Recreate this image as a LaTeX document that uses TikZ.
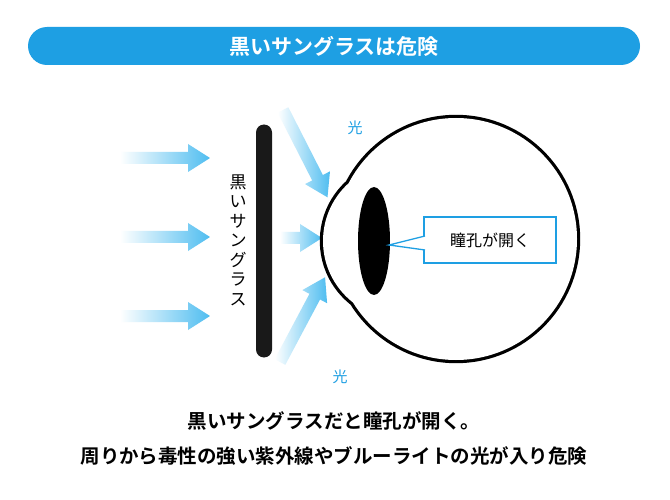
\documentclass[tikz,border=0pt]{standalone}
\usepackage{fontspec}
\setmainfont{Noto Sans CJK JP}
\newfontfamily\jpb{Noto Sans CJK JP Bold}
\usetikzlibrary{shapes.geometric}
\definecolor{sky}{HTML}{1E9FE3}
\definecolor{lite}{HTML}{4FBDF0}
\newcommand{\garrow}[3]{% start, angle, length
\begin{scope}[shift={#1},rotate=#2]
\shade[left color=white,right color=lite,draw=none]
 (0,-6)--(#3-22,-6)--(#3-22,-14)--(#3,0)--(#3-22,14)--(#3-22,6)--(0,6)--cycle;
\end{scope}}
\begin{document}
\begin{tikzpicture}[x=1pt,y=-1pt,
 lbl/.style={text=sky,font=\fontsize{15}{17}\selectfont}]
\useasboundingbox (0,0) rectangle (670,500);
\fill[white] (0,0) rectangle (670,500);
\node[fill=sky,rounded corners=19pt,minimum width=612pt,minimum height=38pt] (bar) at (334,46) {};
\node[text=white,font=\jpb\fontsize{21}{24}\selectfont] (title) at (334,46) {黒いサングラスは危険};
% arrows
\garrow{(120,158)}{0}{90}
\garrow{(120,237)}{0}{90}
\garrow{(120,316)}{0}{90}
\garrow{(280,238)}{0}{42}
\garrow{(283,110)}{-63}{98}
\garrow{(280,362)}{62}{96}
% sunglasses
\node[fill=black!90,rounded corners=8pt,minimum width=16pt,minimum height=233pt,inner sep=0] (sg) at (264,241) {};
\node[align=center,font=\fontsize{17}{19.5}\selectfont,inner sep=0] (sgt) at (238,240)
 {黒\\い\\サ\\ン\\グ\\ラ\\ス};
% eye
\draw[line width=6.4pt] (456,239) circle (121) (401,241) circle (78);
\fill[white] (456,239) circle (121) (401,241) circle (78);
\node[ellipse,fill=black,minimum width=32pt,minimum height=108pt,inner sep=0] (pupil) at (374,241) {};
\node[draw=sky,line width=1.5pt,fill=white,minimum width=132pt,minimum height=46pt,font=\fontsize{16}{18}\selectfont] (lab) at (490,240) {瞳孔が開く};
\coordinate (p1) at (389,245);
\fill[white] (p1) -- (425,236) -- (425,250) -- cycle;
\draw[sky,line width=1.3pt] (425,236) -- (p1) -- (425,250);
\node[lbl] (l1) at (355,128) {光};
\node[lbl] (l2) at (340,377) {光};
\node[font=\jpb\fontsize{19.5}{22}\selectfont] (c1) at (334,421) {黒いサングラスだと瞳孔が開く。};
\node[font=\jpb\fontsize{19.5}{22}\selectfont] (c2) at (334,456) {周りから毒性の強い紫外線やブルーライトの光が入り危険};
\end{tikzpicture}
\end{document}
